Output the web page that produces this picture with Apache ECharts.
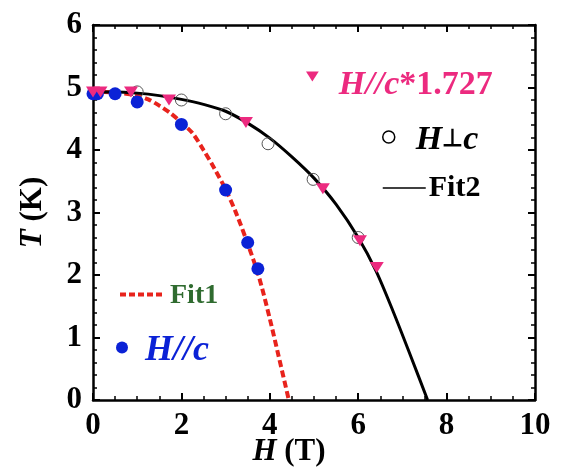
<!DOCTYPE html>
<html><head><meta charset="utf-8">
<script src="https://cdn.jsdelivr.net/npm/echarts@6/dist/echarts.min.js"></script>
<style>html,body{margin:0;padding:0;background:#fff}#c{width:564px;height:468px}</style>
</head><body><div id="c"></div>
<script>
// H//c data (blue circles)
const parH = [0, 0.1, 0.5, 1.0, 2.0, 3.0, 3.5, 3.73];
const parT = [4.9, 4.9, 4.9, 4.77, 4.41, 3.36, 2.52, 2.1];
// H//c * 1.727 (pink triangles)
const scaledH = [0, 0.17, 0.86, 1.72, 3.46, 5.2, 6.04, 6.42];
const scaledT = [4.93, 4.93, 4.93, 4.8, 4.44, 3.38, 2.55, 2.12];
// H perpendicular c (open circles)
const perpH = [1.0, 2.0, 3.0, 3.96, 4.98, 6.0];
const perpT = [4.93, 4.8, 4.58, 4.1, 3.53, 2.6];
// Fit1 (red dashed)
const fit1H = [0, 0.5, 1.0, 1.25, 1.5, 1.75, 2.0, 2.25, 2.5, 2.75, 3.0, 3.25, 3.5, 3.75, 4.0, 4.2, 4.43];
const fit1T = [4.93, 4.92, 4.87, 4.81, 4.71, 4.59, 4.44, 4.27, 4.0, 3.7, 3.37, 2.97, 2.5, 1.98, 1.3, 0.7, 0];
// Fit2 (black solid)
const fit2H = [0, 0.5, 1.0, 1.5, 2.0, 2.5, 3.0, 3.5, 4.0, 4.5, 5.0, 5.5, 6.0, 6.4, 6.8, 7.2, 7.57];
const fit2T = [4.93, 4.93, 4.91, 4.87, 4.81, 4.73, 4.62, 4.43, 4.19, 3.89, 3.55, 3.13, 2.6, 2.07, 1.4, 0.68, 0];
// ticks
const xTicks = [0, 2, 4, 6, 8, 10];
const yTicks = [0, 1, 2, 3, 4, 5, 6];

const FF = 'Liberation Serif';
const BLUE = '#0b22d6', PINK = '#ec2a7f', RED = '#e8231c', GREEN = '#2f6b2f';
const zip = (a, b) => a.map((v, i) => [v, b[i]]);

const rich = (color, size) => ({
  i: {fontFamily: FF, fontWeight: 'bold', fontStyle: 'italic', fontSize: size, color: color, lineHeight: size},
  b: {fontFamily: FF, fontWeight: 'bold', fontSize: size, color: color, lineHeight: size},
  p: {fontFamily: FF, fontWeight: 'bold', fontSize: Math.round(size * 0.72), color: color, lineHeight: size}
});

function axisCommon(show) {
  return {
    type: 'value',
    axisLine: {show: true, onZero: false, lineStyle: {color: '#000', width: 2.5}},
    axisTick: {show: true, inside: true, length: 7, lineStyle: {color: '#000', width: 2}},
    minorTick: {show: true, length: 4, lineStyle: {color: '#000', width: 1.5}},
    splitLine: {show: false},
    minorSplitLine: {show: false},
    axisLabel: {show: show, fontFamily: FF, fontWeight: 'bold', fontSize: 30, color: '#000'}
  };
}

const xBase = {min: xTicks[0], max: xTicks[xTicks.length - 1], interval: xTicks[1] - xTicks[0]};
const yBase = {min: yTicks[0], max: yTicks[yTicks.length - 1], interval: yTicks[1] - yTicks[0]};

const chart = echarts.init(document.getElementById('c'));
chart.setOption({
  animation: false,
  backgroundColor: '#fff',
  grid: {left: 93, right: 29, top: 25, bottom: 68, containLabel: false, outerBoundsMode: 'none'},
  xAxis: [
    Object.assign(axisCommon(true), xBase, {
      position: 'bottom',
      minorTick: {show: true, splitNumber: 4, length: 4, lineStyle: {color: '#000', width: 1.5}},
      axisLabel: {show: true, margin: 10, fontFamily: FF, fontWeight: 'bold', fontSize: 31, color: '#000'},
      name: '{i|H}{b| (T)}', nameLocation: 'middle', nameGap: 36, nameMoveOverlap: false,
      nameTextStyle: {padding: [0, 50, 0, 0], rich: rich('#000', 31)}
    }),
    Object.assign(axisCommon(false), xBase, {
      position: 'top',
      minorTick: {show: true, splitNumber: 4, length: 4, lineStyle: {color: '#000', width: 1.5}}
    })
  ],
  yAxis: [
    Object.assign(axisCommon(true), yBase, {
      position: 'left',
      minorTick: {show: true, splitNumber: 5, length: 4, lineStyle: {color: '#000', width: 1.5}},
      axisLabel: {show: true, margin: 11, fontFamily: FF, fontWeight: 'bold', fontSize: 31, color: '#000'},
      name: '{i|T}{b| (K)}', nameLocation: 'middle', nameGap: 45, nameRotate: 90, nameMoveOverlap: false,
      nameTextStyle: {rich: rich('#000', 31)}
    }),
    Object.assign(axisCommon(false), yBase, {
      position: 'right',
      minorTick: {show: true, splitNumber: 5, length: 4, lineStyle: {color: '#000', width: 1.5}}
    })
  ],
  legend: [
    {
      data: [{name: 'H//c*1.727', icon: 'path://M0,0L14,0L7,11Z'}], left: 306, top: 68, padding: 0,
      itemWidth: 13, itemHeight: 10,
      itemStyle: {color: PINK, opacity: 1},
      formatter: () => '{i|H//c}{b|*1.727}',
      textStyle: {padding: [17, 0, 0, 15], rich: rich(PINK, 34)}
    },
    {
      data: ['H⊥c'], left: 382, top: 123, padding: 0,
      itemWidth: 12, itemHeight: 12,
      itemStyle: {color: 'rgba(0,0,0,0)', borderColor: '#000', borderWidth: 1.5},
      formatter: () => '{i|H}{p|⊥}{i|c}',
      textStyle: {padding: [6, 0, 0, 16], rich: rich('#000', 34)}
    },
    {
      data: ['Fit2'], left: 382, top: 173, padding: 0,
      itemWidth: 43, itemHeight: 12,
      lineStyle: {color: '#000', width: 1.5, type: 'solid'},
      itemStyle: {opacity: 0},
      formatter: () => '{b|Fit2}',
      textStyle: {padding: [0, 0, 0, -2], rich: rich('#000', 30)}
    },
    {
      data: ['Fit1'], left: 118, top: 282, padding: 0,
      itemWidth: 45, itemHeight: 12,
      lineStyle: {color: RED, width: 4, type: [6, 3]},
      itemStyle: {opacity: 0},
      formatter: () => '{b|Fit1}',
      textStyle: {padding: [3, 0, 0, 0], rich: rich(GREEN, 28)}
    },
    {
      data: ['H//c'], left: 116, top: 333, padding: 0,
      itemWidth: 12, itemHeight: 12,
      itemStyle: {color: BLUE, opacity: 1},
      formatter: () => '{i|H//c}',
      textStyle: {padding: [7, 0, 0, 12], rich: rich(BLUE, 36)}
    }
  ],
  series: [
    {
      name: 'Fit1', type: 'line', data: zip(fit1H, fit1T), symbol: 'none', smooth: 0.3,
      lineStyle: {color: RED, width: 4, type: [7, 3.5]}, itemStyle: {color: RED}, z: 2
    },
    {
      name: 'Fit2', type: 'line', data: zip(fit2H, fit2T), symbol: 'none', smooth: 0.3,
      lineStyle: {color: '#000', width: 3}, itemStyle: {color: '#000'}, z: 2
    },
    {
      name: 'H⊥c', type: 'scatter', data: zip(perpH, perpT), symbol: 'circle', symbolSize: 12,
      itemStyle: {color: 'rgba(0,0,0,0)', borderColor: '#555', borderWidth: 1, opacity: 1}, z: 3
    },
    {
      name: 'H//c', type: 'scatter', data: zip(parH, parT), symbol: 'circle', symbolSize: 13,
      itemStyle: {color: BLUE, opacity: 1}, z: 4
    },
    {
      name: 'H//c*1.727', type: 'scatter', data: zip(scaledH, scaledT), symbol: 'triangle',
      symbolRotate: 180, symbolSize: [14, 11], itemStyle: {color: PINK, opacity: 1}, z: 5
    }
  ]
});
</script></body></html>
